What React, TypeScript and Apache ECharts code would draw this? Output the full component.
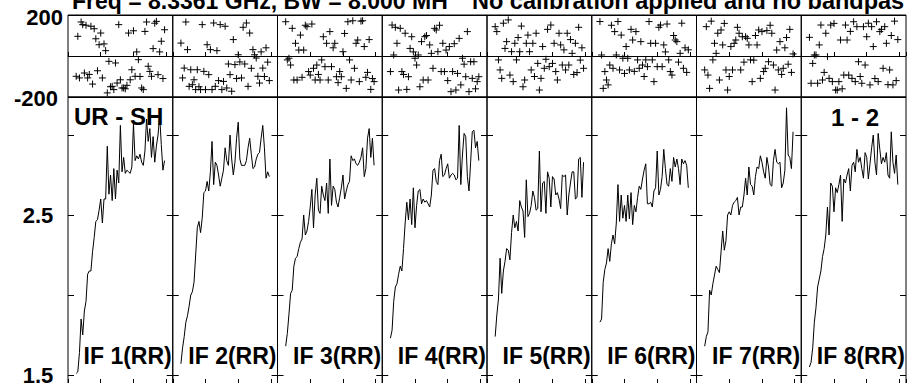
import React, { useEffect, useRef } from 'react';
import * as echarts from 'echarts';

const TITLE_LEFT = 'Freq = 8.3361 GHz, BW = 8.000 MH';
const TITLE_RIGHT = 'No calibration applied and no bandpas';
const BASELINE_LABEL = 'UR - SH';
const STOKES_LABEL = '1 - 2';
const IF_LABELS = ['IF 1(RR)', 'IF 2(RR)', 'IF 3(RR)', 'IF 4(RR)', 'IF 5(RR)', 'IF 6(RR)', 'IF 7(RR)', 'IF 8(RR)'];

const CHANNELS = [5, 6, 7, 8, 9, 10, 11, 12, 13, 14, 15, 16, 17, 18, 19, 20, 21, 22, 23, 24, 25, 26, 27, 28, 29, 30, 31, 32, 33, 34, 35, 36, 37, 38, 39, 40, 41, 42, 43, 44, 45, 46, 47, 48, 49, 50, 51, 52, 53, 54, 55, 56, 57, 58, 59];

const PHASE_LABELS = [-200, 200];
const AMP_TICKS = [1.5, 2.0, 2.5, 3.0];
const AMP_LABELS = [1.5, 2.5];

const AMP_1 = [1.51, 1.52, 1.64, 1.85, 1.75, 1.90, 1.96, 2.13, 2.15, 2.15, 2.27, 2.36, 2.46, 2.47, 2.53, 2.60, 2.45, 2.60, 2.60, 2.93, 2.63, 2.75, 2.59, 2.79, 2.60, 2.78, 2.70, 3.06, 2.77, 2.86, 2.76, 2.78, 2.77, 2.76, 2.80, 3.07, 2.84, 2.87, 2.85, 2.88, 2.83, 2.81, 2.90, 3.10, 2.96, 3.04, 2.86, 2.99, 2.83, 2.93, 3.00, 3.12, 2.94, 2.78, 2.84];
const AMP_2 = [1.57, 1.67, 1.74, 1.83, 1.87, 1.93, 2.00, 2.02, 2.08, 2.25, 2.42, 2.46, 2.39, 2.48, 2.64, 2.65, 2.71, 2.65, 2.77, 2.96, 2.69, 2.83, 2.81, 2.75, 2.68, 2.73, 2.78, 2.92, 2.84, 2.81, 3.00, 2.85, 2.75, 2.83, 2.98, 3.08, 2.85, 2.81, 2.81, 2.81, 2.84, 2.92, 2.98, 2.88, 2.79, 2.80, 2.85, 2.88, 2.89, 2.98, 3.06, 2.92, 2.73, 2.77, 2.74];
const AMP_3 = [1.68, 1.76, 1.88, 2.01, 2.03, 2.18, 2.23, 2.24, 2.29, 2.33, 2.35, 2.50, 2.375, 2.40, 2.46, 2.55, 2.66, 2.42, 2.625, 2.73, 2.53, 2.51, 2.68, 2.625, 2.59, 2.70, 2.51, 2.85, 2.56, 2.68, 2.66, 2.58, 2.55, 2.61, 2.67, 2.75, 2.60, 2.65, 2.69, 2.71, 2.87, 2.84, 2.85, 2.82, 2.81, 2.83, 2.86, 2.92, 2.74, 2.79, 2.98, 3.04, 2.86, 2.98, 2.81];
const AMP_4 = [1.73, 1.78, 1.96, 2.05, 2.07, 2.13, 2.18, 2.15, 2.29, 2.45, 2.58, 2.47, 2.60, 2.44, 2.67, 2.42, 2.56, 2.65, 2.66, 2.57, 2.60, 2.58, 2.59, 2.57, 2.55, 2.625, 2.78, 2.79, 2.71, 2.69, 2.84, 2.88, 2.74, 2.75, 2.79, 2.82, 2.73, 2.75, 2.76, 2.75, 2.72, 2.73, 3.06, 2.69, 2.875, 3.01, 2.99, 2.74, 2.65, 2.83, 3.02, 3.03, 2.92, 2.96, 2.84];
const AMP_5 = [1.74, 1.875, 1.975, 2.23, 2.01, 2.15, 2.21, 2.29, 2.28, 2.22, 2.39, 2.50, 2.42, 2.46, 2.40, 2.59, 2.55, 2.525, 2.36, 2.72, 2.49, 2.51, 2.56, 2.65, 2.61, 2.53, 2.54, 2.90, 2.52, 2.70, 2.71, 2.51, 2.77, 2.73, 2.55, 2.74, 2.725, 2.625, 2.64, 2.60, 2.54, 2.75, 2.74, 2.75, 2.50, 2.625, 2.70, 2.77, 2.77, 2.60, 2.61, 2.85, 2.86, 2.61, 2.83];
const AMP_6 = [1.83, 1.85, 2.08, 2.16, 2.20, 2.29, 2.21, 2.32, 2.375, 2.32, 2.45, 2.69, 2.46, 2.625, 2.48, 2.56, 2.46, 2.625, 2.475, 2.64, 2.44, 2.56, 2.52, 2.61, 2.68, 2.66, 2.725, 2.78, 2.82, 2.57, 2.57, 2.58, 2.55, 2.65, 2.67, 2.90, 2.625, 2.66, 2.74, 2.91, 2.79, 2.69, 2.68, 2.79, 2.71, 2.86, 2.80, 2.85, 2.79, 2.69, 2.85, 2.82, 2.84, 2.81, 2.67];
const AMP_7 = [1.68, 1.74, 1.77, 2.03, 2.00, 2.07, 2.125, 2.18, 2.16, 2.14, 2.27, 2.40, 2.28, 2.34, 2.50, 2.52, 2.50, 2.56, 2.58, 2.59, 2.61, 2.50, 2.55, 2.55, 2.625, 2.73, 2.625, 2.80, 2.69, 2.68, 2.625, 2.74, 2.80, 2.79, 2.87, 2.83, 2.77, 2.73, 2.86, 2.80, 2.69, 2.68, 2.84, 2.91, 2.83, 2.82, 2.83, 2.67, 2.70, 2.78, 3.17, 2.875, 2.86, 2.79, 3.02];
const AMP_8 = [1.55, 1.58, 1.67, 1.83, 1.92, 2.05, 2.10, 2.15, 2.24, 2.29, 2.375, 2.55, 2.375, 2.70, 2.68, 2.52, 2.67, 2.64, 2.69, 2.75, 2.46, 2.725, 2.70, 2.75, 2.79, 2.65, 2.81, 2.83, 2.77, 2.91, 2.83, 2.86, 2.79, 2.73, 2.89, 2.86, 2.725, 2.82, 2.92, 3.00, 2.83, 2.75, 3.01, 2.91, 2.82, 2.86, 2.83, 2.89, 2.75, 2.73, 3.02, 2.83, 2.76, 2.875, 2.69];

const PHASE_1 = [-99, 96, -107, 166, 153, -83, 150, -107, -90, 145, -137, 133, 84, -72, 55, 112, -107, 59, 26, -180, -26, -150, -148, -164, -34, -132, 153, -116, -156, -156, -160, -143, 112, -116, -67, 123, -99, 20, -18, -100, -156, -164, 120, 166, -50, -75, -99, 36, 160, 169, -91, 20, 72, -110, 128];
const PHASE_2 = [63, -107, -59, 166, 31, -148, -67, -140, -116, -164, -67, -150, -164, 153, -75, -164, 55, -91, 31, -164, 161, -148, 26, -120, 153, -164, -124, 145, -156, -39, -91, -172, 80, -42, -110, 6, -29, -107, 140, -39, 161, -148, 112, -60, 31, 6, -10, -99, -132, 20, -59, -100, 40, -30, -120];
const PHASE_3 = [167, -19, -11, -44, 135, -117, 62, -117, 29, 102, -104, 29, 150, 143, -76, -93, 156, -60, -117, -44, -90, -117, -19, 94, -52, 62, -117, 119, -52, 40, 62, -101, -130, -76, -101, 21, 110, -158, 167, -19, -117, 172, -60, 62, 78, -125, 170, 172, 46, -104, -80, 80, -163, -110, -125];
const PHASE_4 = [-76, 151, 5, 140, 62, -166, 135, -76, -90, 111, -163, -101, 37, 94, 20, -11, -44, 5, -150, 70, -117, 94, 100, -117, 54, 13, -60, 135, 127, 21, 150, -76, 62, -76, 29, -120, 46, -174, -76, 60, -166, -85, 86, -141, -11, -40, -101, 119, -174, -28, -109, -28, -160, -125, -101];
const PHASE_5 = [143, 119, -19, -68, -109, 160, 37, 70, 176, -93, 21, -125, 62, -19, 90, 21, 146, -150, -117, 62, 102, 21, -68, 62, -100, 111, -36, -166, -109, 46, -60, -16, 130, -52, 151, -36, 62, -76, -117, 111, 54, -44, 30, -68, 111, -44, 80, 13, -90, 62, -81, 140, -20, 40, -60];
const PHASE_6 = [168, 5, -158, -76, -117, -141, -44, 150, -60, 119, 5, 168, -68, 102, -11, -85, 46, -11, -68, 130, 78, -75, 119, -19, -60, 70, -44, -100, -19, -52, 168, 62, -19, -125, 62, -52, 140, 151, -52, 54, 20, 156, -19, -76, -93, 100, 78, 70, -30, 13, 160, -60, 40, -80, 30];
const PHASE_7 = [-68, 143, -93, -158, 170, -19, 62, 13, 111, -117, 127, 54, 159, -68, -166, -100, 46, -68, 62, 78, 140, 111, -68, 94, -30, 94, 86, 54, -19, -125, -20, 100, 54, 127, -109, 119, -76, -60, 124, -28, 150, 111, -44, -166, 29, -68, 70, -90, -60, 40, 90, -40, 130, -80, 10];
const PHASE_8 = [91, -133, -36, 5, 5, -133, 54, 151, -117, -80, 111, -3, -109, 151, -125, 159, -166, -166, -125, 78, -160, -93, 151, 78, -93, 120, -109, 167, -125, 143, -28, -100, -133, 143, -44, 94, 160, -141, 143, 46, -110, 167, -125, 119, 130, -60, 143, 62, -140, -68, 100, -141, 170, -120, 80];

const AMPS = [AMP_1, AMP_2, AMP_3, AMP_4, AMP_5, AMP_6, AMP_7, AMP_8];
const PHASES = [PHASE_1, PHASE_2, PHASE_3, PHASE_4, PHASE_5, PHASE_6, PHASE_7, PHASE_8];

const FONT = '"Liberation Sans", Arial, Helvetica, sans-serif';

function buildOption() {
  const n = 8;
  const plotLeft = 68;
  const plotRight = 906;
  const pw = (plotRight - plotLeft) / n;
  const phTop = 15;
  const phBot = 97;
  const ampBot = 384;
  const ampMin = 1.5 - (ampBot - 375) / 160;
  const ampMax = 2.5 + (215 - phBot) / 160;

  const grid: any[] = [];
  const xAxis: any[] = [];
  const yAxis: any[] = [];
  const series: any[] = [];
  const graphic: any[] = [];

  const frame = { show: true, borderColor: '#000', borderWidth: 1, backgroundColor: 'transparent' };

  for (let i = 0; i < n; i++) {
    const left = plotLeft + i * pw;
    const gPh = grid.length;
    grid.push({ left, top: phTop, width: pw, height: phBot - phTop, ...frame });
    const gAmp = grid.length;
    grid.push({ left, top: phBot, width: pw, height: ampBot - phBot, ...frame });

    const xPh = xAxis.length;
    xAxis.push({
      gridIndex: gPh, type: 'value', min: 0, max: 64, interval: 20,
      axisLine: { show: false },
      axisTick: { show: true, inside: true, length: 4, lineStyle: { color: '#000', width: 1 } },
      axisLabel: { show: false }, splitLine: { show: false },
    });
    const xAmp = xAxis.length;
    xAxis.push({
      gridIndex: gAmp, type: 'value', min: 0, max: 64, interval: 20,
      axisLine: { show: false },
      axisTick: { show: true, inside: true, length: 5, lineStyle: { color: '#000', width: 1 } },
      axisLabel: { show: false }, splitLine: { show: false },
    });

    const yPh = yAxis.length;
    yAxis.push({
      gridIndex: gPh, type: 'value', min: -200, max: 200, interval: 200,
      axisLine: { show: false },
      axisTick: { show: false },
      splitLine: { show: true, lineStyle: { color: '#000', width: 1 } },
      axisLabel: i === 0 ? {
        show: true,
        customValues: PHASE_LABELS,
        align: 'right',
        margin: 5,
        color: '#000',
        fontFamily: FONT,
        fontWeight: 'bold',
        fontSize: 22,
        formatter: (v: number) => (v > 0 ? `{a|${v}}` : `{b|${v}}`),
        rich: {
          a: { fontFamily: FONT, fontWeight: 'bold', fontSize: 22, color: '#000', padding: [5, 0, 0, 0] },
          b: { fontFamily: FONT, fontWeight: 'bold', fontSize: 22, color: '#000', padding: [3, 5, 0, 0] },
        },
      } : { show: false },
    });

    const yAmp = yAxis.length;
    yAxis.push({
      gridIndex: gAmp, type: 'value', position: 'left', min: ampMin, max: ampMax,
      axisLine: { show: false },
      axisTick: { show: true, inside: true, length: 6, customValues: AMP_TICKS, lineStyle: { color: '#000', width: 1 } },
      splitLine: { show: false },
      axisLabel: i === 0 ? {
        show: true,
        customValues: AMP_LABELS,
        align: 'center',
        margin: 30,
        color: '#000',
        fontFamily: FONT,
        fontWeight: 'bold',
        fontSize: 22,
        formatter: (v: number) => v.toFixed(1),
      } : { show: false },
    });
    yAxis.push({
      gridIndex: gAmp, type: 'value', position: 'right', min: ampMin, max: ampMax,
      axisLine: { show: false },
      axisTick: { show: true, inside: true, length: 6, customValues: AMP_TICKS, lineStyle: { color: '#000', width: 1 } },
      splitLine: { show: false },
      axisLabel: { show: false },
    });

    series.push({
      type: 'scatter',
      xAxisIndex: xPh,
      yAxisIndex: yPh,
      silent: true,
      data: CHANNELS.map((c, k) => [c, PHASES[i][k]]),
      symbol: 'path://M0,5L10,5M5,0L5,10',
      symbolSize: 7,
      itemStyle: { color: 'none', borderColor: '#000', borderWidth: 1, opacity: 1 },
    });
    series.push({
      type: 'line',
      xAxisIndex: xAmp,
      yAxisIndex: yAmp,
      silent: true,
      symbol: 'none',
      showSymbol: false,
      data: CHANNELS.map((c, k) => [c, AMPS[i][k]]),
      lineStyle: { color: '#000', width: 1 },
    });

    graphic.push({
      type: 'text',
      x: left + pw - 1,
      y: 356,
      silent: true,
      style: {
        text: IF_LABELS[i],
        font: `bold 23px ${FONT}`,
        fill: '#000',
        align: 'right', textAlign: 'right',
        verticalAlign: 'middle', textVerticalAlign: 'middle',
      },
    });
  }

  graphic.push({
    type: 'text', x: 74, y: 116.5, silent: true,
    style: { text: BASELINE_LABEL, font: `bold 24px ${FONT}`, fill: '#000', align: 'left', textAlign: 'left', verticalAlign: 'middle', textVerticalAlign: 'middle' },
  });
  graphic.push({
    type: 'text', x: 855, y: 117.5, silent: true,
    style: { text: STOKES_LABEL, font: `bold 24px ${FONT}`, fill: '#000', align: 'center', textAlign: 'center', verticalAlign: 'middle', textVerticalAlign: 'middle' },
  });
  graphic.push({
    type: 'text', x: 72, y: 1, silent: true,
    style: { text: TITLE_LEFT, font: `bold 23px ${FONT}`, fill: '#000', align: 'left', textAlign: 'left', verticalAlign: 'middle', textVerticalAlign: 'middle' },
  });
  graphic.push({
    type: 'text', x: 472, y: 1, silent: true,
    style: { text: TITLE_RIGHT, font: `bold 23.5px ${FONT}`, fill: '#000', align: 'left', textAlign: 'left', verticalAlign: 'middle', textVerticalAlign: 'middle' },
  });

  return {
    animation: false,
    backgroundColor: '#fff',
    textStyle: { fontFamily: FONT },
    grid,
    xAxis,
    yAxis,
    series,
    graphic,
  };
}

export default function App() {
  const ref = useRef<HTMLDivElement>(null);
  useEffect(() => {
    if (!ref.current) return;
    const chart = echarts.init(ref.current, undefined, { renderer: 'svg' });
    chart.setOption(buildOption() as any);
    return () => chart.dispose();
  }, []);
  return (
    <div style={{ position: 'fixed', left: 0, top: 0, width: 907, height: 383, overflow: 'hidden', background: '#fff' }}>
      <div ref={ref} style={{ width: 907, height: 392 }} />
    </div>
  );
}
